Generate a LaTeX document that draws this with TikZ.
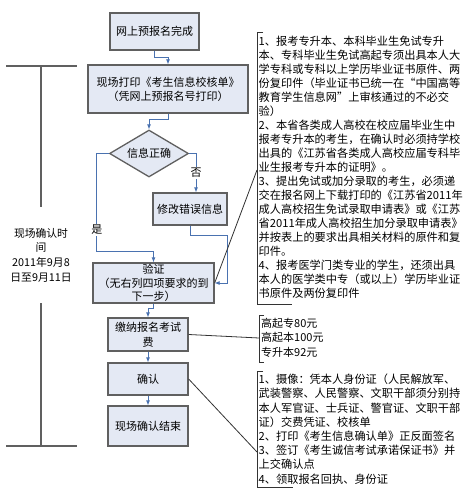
\documentclass[tikz,border=0pt]{standalone}
\usepackage{fontspec}
\setmainfont{Noto Sans CJK SC}
\usetikzlibrary{arrows.meta,calc,positioning,shapes.geometric}
\definecolor{boxFill}{HTML}{E4E9F4}
\definecolor{boxEdge}{HTML}{606060}
\definecolor{flowBlue}{HTML}{4A72B0}
\newcommand\flowfont{\fontsize{11}{14}\selectfont}
\newcommand\notefont{\fontsize{11.2}{14}\selectfont}

\begin{document}
\begin{tikzpicture}[x=1pt, y=-1pt,
  stepbox/.style={draw=boxEdge, fill=boxFill, line width=1.3pt, align=center, inner sep=0pt, font=\flowfont},
  query/.style={diamond, draw=boxEdge, fill=boxFill, line width=1.3pt, aspect=1.7, inner sep=0pt, font=\flowfont},
  flow/.style={-{Latex[length=5pt,width=4pt]}, line width=0.8pt, draw=flowBlue},
  answer/.style={fill=white, inner sep=1pt, font=\flowfont},
  timeline/.style={line width=1.3pt, draw=boxEdge},
  bracket/.style={line width=0.9pt, draw=black!80},
  callout/.style={line width=0.8pt, draw=black!80},
  note/.style={anchor=north west, align=left, inner sep=0pt, font=\notefont},
]
\useasboundingbox (0,0) rectangle (463,500);

\node[stepbox, minimum width=89pt, minimum height=37pt] (start) at (154.5,31.5) {网上预报名完成};
\node[stepbox, minimum width=160pt, minimum height=48pt] (print) at (168,89) {现场打印《考生信息校核单》\\（凭网上预报名号打印）};
\node[query, minimum width=79pt, minimum height=47pt] (check) at (149,153.5) {信息正确};
\node[stepbox, minimum width=74pt, minimum height=32pt] (modify) at (190,209) {修改错误信息};
\node[stepbox, minimum width=121pt, minimum height=40pt, font=\fontsize{11}{13.5}\selectfont] (verify) at (153.5,283) {验证\\（无右列四项要求的到\\下一步）};
\node[stepbox, minimum width=80pt, minimum height=33pt, font=\fontsize{11}{15}\selectfont] (fee) at (148,334.5) {缴纳报名考试\\费};
\node[stepbox, minimum width=80pt, minimum height=32pt] (confirm) at (148,379) {确认};
\node[stepbox, minimum width=80pt, minimum height=40pt] (finish) at (148,426) {现场确认结束};

\draw[flow] (start.south) -- ++(0,7) -| (print.north);
\draw[flow] (print.south) -- ++(0,6) -| (check.north);
\draw[flow] (check.east) -| node[answer, pos=0.75] {否} ([xshift=6pt]modify.north);
\draw[flow] (check.west) -- ++(-12,0) |- node[answer, pos=0.39] {是} ($(verify.north)+(0,-11)$) -- (verify.north);
\draw[flow] (modify.south) -- ++(0,10) -| ($(verify.east)+(13,0)$) -- (verify.east);
\draw[flow] (verify.south) -- ++(0,5) -| (fee.north);
\draw[flow] (fee) -- (confirm);
\draw[flow] (confirm) -- (finish);

\node[align=center, font=\fontsize{10.8}{14.7}\selectfont, minimum height=96pt] (period) at (41,255) {现场确认时\\间\\2011年9月8\\日至9月11日};
\coordinate (periodTop) at (41,66);
\coordinate (periodEnd) at (41,446);
\draw[timeline] (6,66) -- (77,66);
\draw[timeline] (6,446) -- (77,446);
\draw[timeline] (periodTop) -- (period.north);
\draw[timeline] (period.south) -- (periodEnd);

\foreach \x/\top/\bot/\tick/\foot in {257/32/304/6/35, 259/315/362/5/5, 257/371/487/6/36} {
  \draw[bracket] (\x+\tick,\top) -- (\x,\top) -- (\x,\bot) -- (\x+\foot,\bot);
}
\coordinate (reqsPin) at (257,170);
\coordinate (feesPin) at (259,338);
\coordinate (stepsPin) at (257,452);
\draw[callout] (verify.east) -- (reqsPin);
\draw[callout] (fee.east) -- (feesPin);
\draw[callout] (confirm.east) -- (stepsPin);

\node[note] (reqs) at (258.5,36) {1、报考专升本、本科毕业生免试专升\\本、专科毕业生免试高起专须出具本人大\\学专科或专科以上学历毕业证书原件、两\\份复印件（毕业证书已统一在“中国高等\\教育学生信息网”上审核通过的不必交\\验）\\2、本省各类成人高校在校应届毕业生中\\报考专升本的考生，在确认时必须持学校\\出具的《江苏省各类成人高校应届专科毕\\业生报考专升本的证明》。\\3、提出免试或加分录取的考生，必须递\\交在报名网上下载打印的《江苏省2011年\\成人高校招生免试录取申请表》或《江苏\\省2011年成人高校招生加分录取申请表》\\并按表上的要求出具相关材料的原件和复\\印件。\\4、报考医学门类专业的学生，还须出具\\本人的医学类中专（或以上）学历毕业证\\书原件及两份复印件};
\node[note, font=\fontsize{11}{14.5}\selectfont] (fees) at (261,318) {高起专80元\\高起本100元\\专升本92元};
\node[note, font=\fontsize{11.2}{14.2}\selectfont] (steps) at (258.5,374) {1、摄像：凭本人身份证（人民解放军、\\武装警察、人民警察、文职干部须分别持\\本人军官证、士兵证、警官证、文职干部\\证）交费凭证、校核单\\2、打印《考生信息确认单》正反面签名\\3、签订《考生诚信考试承诺保证书》并\\上交确认点\\4、领取报名回执、身份证};
\end{tikzpicture}
\end{document}
